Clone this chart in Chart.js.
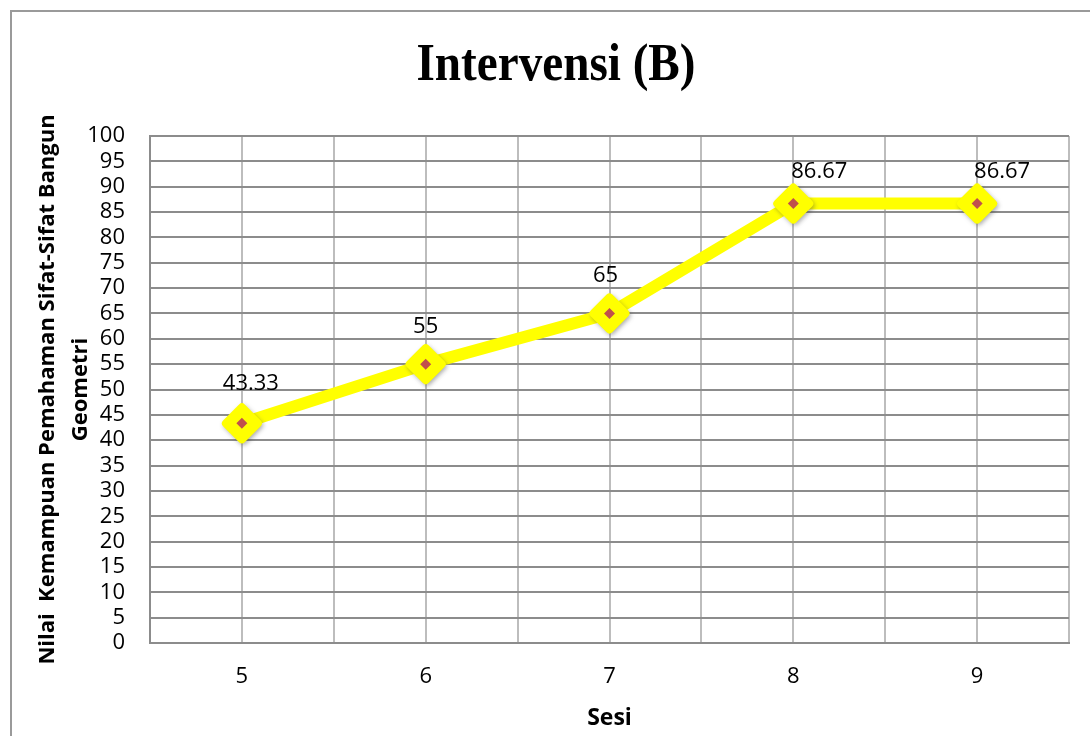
<!DOCTYPE html>
<html>
<head>
<meta charset="utf-8">
<script src="https://cdn.jsdelivr.net/npm/chart.js@4/dist/chart.umd.min.js"></script>
<style>
  html, body { margin: 0; padding: 0; background: #fff; overflow: hidden; }
  #wrap { width: 1090px; height: 736px; position: relative; }
</style>
</head>
<body>
<div id="wrap"><canvas id="c" width="1090" height="736"></canvas></div>
<script>
// Session numbers (x) and scores (y)
const sessions = [5, 6, 7, 8, 9];
const scores = [43.33, 55, 65, 86.67, 86.67];
const scoreLabels = ['43.33', '55', '65', '86.67', '86.67'];
const yTickValues = [0, 5, 10, 15, 20, 25, 30, 35, 40, 45, 50, 55, 60, 65, 70, 75, 80, 85, 90, 95, 100];

const chartTitle = 'Intervensi (B)';
const xTitle = 'Sesi';
const yTitle = ['Nilai  Kemampuan Pemahaman Sifat-Sifat Bangun', 'Geometri'];

// pixel nudges for the value labels, relative to each point
const labelDX = [9, 0, -4, 26, 25];
const labelDY = [-40, -37, -38, -32, -32];

const SANS = '"Open Sans", "Liberation Sans", sans-serif';
const points = sessions.map((s, i) => ({ x: s, y: scores[i] }));

// frame, background and title
const framePlugin = {
  id: 'frame',
  beforeDraw(chart) {
    const ctx = chart.ctx;
    ctx.save();
    ctx.fillStyle = '#ffffff';
    ctx.fillRect(0, 0, chart.width, chart.height);
    ctx.strokeStyle = '#9a9a9a';
    ctx.lineWidth = 2;
    ctx.strokeRect(11, 11, chart.width + 20, chart.height + 20);
    ctx.restore();
  },
  afterDraw(chart) {
    const ctx = chart.ctx;
    ctx.save();
    ctx.fillStyle = '#000';
    ctx.font = 'bold 53px "Liberation Serif", "DejaVu Serif", serif';
    ctx.textAlign = 'center';
    ctx.textBaseline = 'middle';
    ctx.translate(556, 66);
    ctx.scale(0.89, 1);
    ctx.fillText(chartTitle, 0, 0);
    ctx.restore();
  }
};

// rounded joins for the markers; the shadow set is drawn offset and blurred
const markerStyle = {
  id: 'markerStyle',
  beforeDatasetDraw(chart, args) {
    const ctx = chart.ctx;
    ctx.save();
    ctx.lineJoin = 'round';
    if (args.index === 3) {
      ctx.translate(1.5, 2);
      ctx.filter = 'blur(2px)';
    }
  },
  afterDatasetDraw(chart) {
    chart.ctx.restore();
  }
};

// value labels
const valueLabels = {
  id: 'valueLabels',
  afterDatasetsDraw(chart) {
    const ctx = chart.ctx;
    const meta = chart.getDatasetMeta(0);
    ctx.save();
    ctx.fillStyle = '#000';
    ctx.font = '22px ' + SANS;
    ctx.textAlign = 'center';
    ctx.textBaseline = 'middle';
    meta.data.forEach((pt, i) => {
      ctx.fillText(scoreLabels[i], pt.x + labelDX[i], pt.y + labelDY[i]);
    });
    ctx.restore();
  }
};

const bigDiamond = {
  showLine: false,
  pointStyle: 'rectRot',
  pointRadius: 16,
  pointHoverRadius: 16,
  pointBorderWidth: 8,
  clip: false
};

new Chart(document.getElementById('c'), {
  type: 'line',
  data: {
    datasets: [
      {
        data: points,
        borderColor: '#ffff00',
        borderWidth: 12,
        borderJoinStyle: 'round',
        pointRadius: 0,
        order: 3,
        clip: false
      },
      Object.assign({}, bigDiamond, {
        data: points,
        pointBackgroundColor: '#ffff00',
        pointBorderColor: '#ffff00',
        order: 2
      }),
      {
        data: points,
        showLine: false,
        pointStyle: 'rectRot',
        pointRadius: 5.5,
        pointHoverRadius: 5.5,
        pointBackgroundColor: '#c0504d',
        pointBorderColor: '#c0504d',
        pointBorderWidth: 0,
        order: 1,
        clip: false
      },
      Object.assign({}, bigDiamond, {
        data: points,
        pointBackgroundColor: 'rgba(60,60,60,0.35)',
        pointBorderColor: 'rgba(60,60,60,0.35)',
        order: 2.5
      })
    ]
  },
  options: {
    responsive: false,
    animation: false,
    events: [],
    layout: { autoPadding: false, padding: { top: 136, right: 19, bottom: 0, left: 0 } },
    plugins: {
      legend: { display: false },
      title: { display: false },
      tooltip: { enabled: false }
    },
    scales: {
      x: {
        type: 'linear',
        min: sessions[0] - 0.5,
        max: sessions[sessions.length - 1] + 0.5,
        afterBuildTicks(scale) {
          const vals = [sessions[0] - 0.5];
          sessions.forEach(s => { vals.push(s, s + 0.5); });
          scale.ticks = vals.map(v => ({ value: v }));
        },
        afterFit(scale) { scale.height = 93; },
        grid: { color: '#bdbdbd', lineWidth: 2, drawTicks: false },
        border: { display: true, color: '#8c8c8c', width: 2 },
        ticks: {
          padding: 21,
          color: '#000',
          font: { family: SANS, size: 22 },
          maxRotation: 0,
          autoSkip: false,
          callback: v => (sessions.includes(v) ? String(v) : '')
        },
        title: {
          display: true,
          text: xTitle,
          color: '#000',
          font: { family: SANS, size: 23, weight: 'bold' },
          padding: { top: 0, bottom: 4 }
        }
      },
      y: {
        min: 0,
        max: 100,
        afterBuildTicks(scale) {
          scale.ticks = yTickValues.map(v => ({ value: v }));
        },
        afterFit(scale) { scale.width = 150; },
        grid: { color: '#8c8c8c', lineWidth: 2, drawTicks: false },
        border: { display: true, color: '#8c8c8c', width: 2 },
        ticks: {
          padding: 25,
          color: '#000',
          font: { family: SANS, size: 22 },
          autoSkip: false
        },
        title: {
          display: true,
          text: yTitle,
          color: '#000',
          font: { family: SANS, size: 22, weight: 'bold', lineHeight: 1.5 },
          padding: { top: 31, bottom: 0 }
        }
      }
    }
  },
  plugins: [framePlugin, markerStyle, valueLabels]
});
</script>
</body>
</html>
